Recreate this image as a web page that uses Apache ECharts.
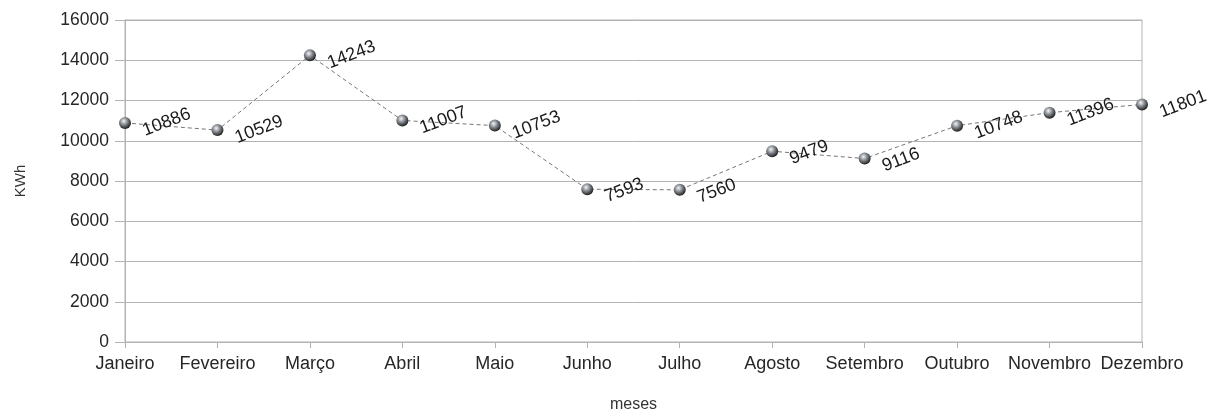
<!DOCTYPE html>
<html>
<head>
<meta charset="utf-8">
<script src="https://cdn.jsdelivr.net/npm/echarts@6/dist/echarts.min.js"></script>
<style>
html,body{margin:0;padding:0;background:#fff;}
#chart{width:1217px;height:410px;}
</style>
</head>
<body>
<div id="chart"></div>
<script>
const categories = ['Janeiro','Fevereiro','Março','Abril','Maio','Junho','Julho','Agosto','Setembro','Outubro','Novembro','Dezembro'];
const values = [10886,10529,14243,11007,10753,7593,7560,9479,9116,10748,11396,11801];
const yTicks = {min:0, max:16000, interval:2000};

const font = 'Liberation Sans';
const chart = echarts.init(document.getElementById('chart'), null, {renderer:'canvas'});
chart.setOption({
  animation:false,
  backgroundColor:'#fff',
  grid:{left:125,right:75,top:20,bottom:68,outerBoundsMode:'none',containLabel:false,show:true,borderColor:'#b3b3b3',borderWidth:1,backgroundColor:'transparent'},
  xAxis:{
    type:'category', data:categories, boundaryGap:false,
    name:'meses', nameLocation:'middle', nameGap:55,
    nameTextStyle:{fontFamily:font,fontSize:16,color:'#333'},
    axisLine:{lineStyle:{color:'#b3b3b3'}},
    axisTick:{show:true,length:6,lineStyle:{color:'#b3b3b3'},alignWithLabel:true},
    axisLabel:{fontFamily:font,fontSize:18,color:'#262626',margin:13,interval:0},
    splitLine:{show:false}
  },
  yAxis:{
    type:'value', min:yTicks.min, max:yTicks.max, interval:yTicks.interval,
    name:'KWh', nameLocation:'middle', nameGap:97,
    nameTextStyle:{fontFamily:font,fontSize:15,color:'#333'},
    axisLine:{show:true,lineStyle:{color:'#b3b3b3'}},
    axisTick:{show:true,length:10,lineStyle:{color:'#b3b3b3'}},
    axisLabel:{fontFamily:font,fontSize:17.5,color:'#262626',margin:16,formatter:function(v){return String(v);}},
    splitLine:{lineStyle:{color:'#b3b3b3'}}
  },
  series:[{
    type:'line', data:values,
    symbol:'circle', symbolSize:12,
    lineStyle:{color:'#777',width:1,type:[4,3]},
    itemStyle:{color:{type:'radial',x:0.4,y:0.35,r:0.65,colorStops:[{offset:0,color:'#f4f4f4'},{offset:0.45,color:'#8a8f96'},{offset:1,color:'#1e1e1e'}]},borderWidth:0},
    label:{show:true,position:'right',distance:9,rotate:21,offset:[0,9],fontFamily:font,fontSize:18,color:'#1a1a1a'}
  }]
});
</script>
</body>
</html>
